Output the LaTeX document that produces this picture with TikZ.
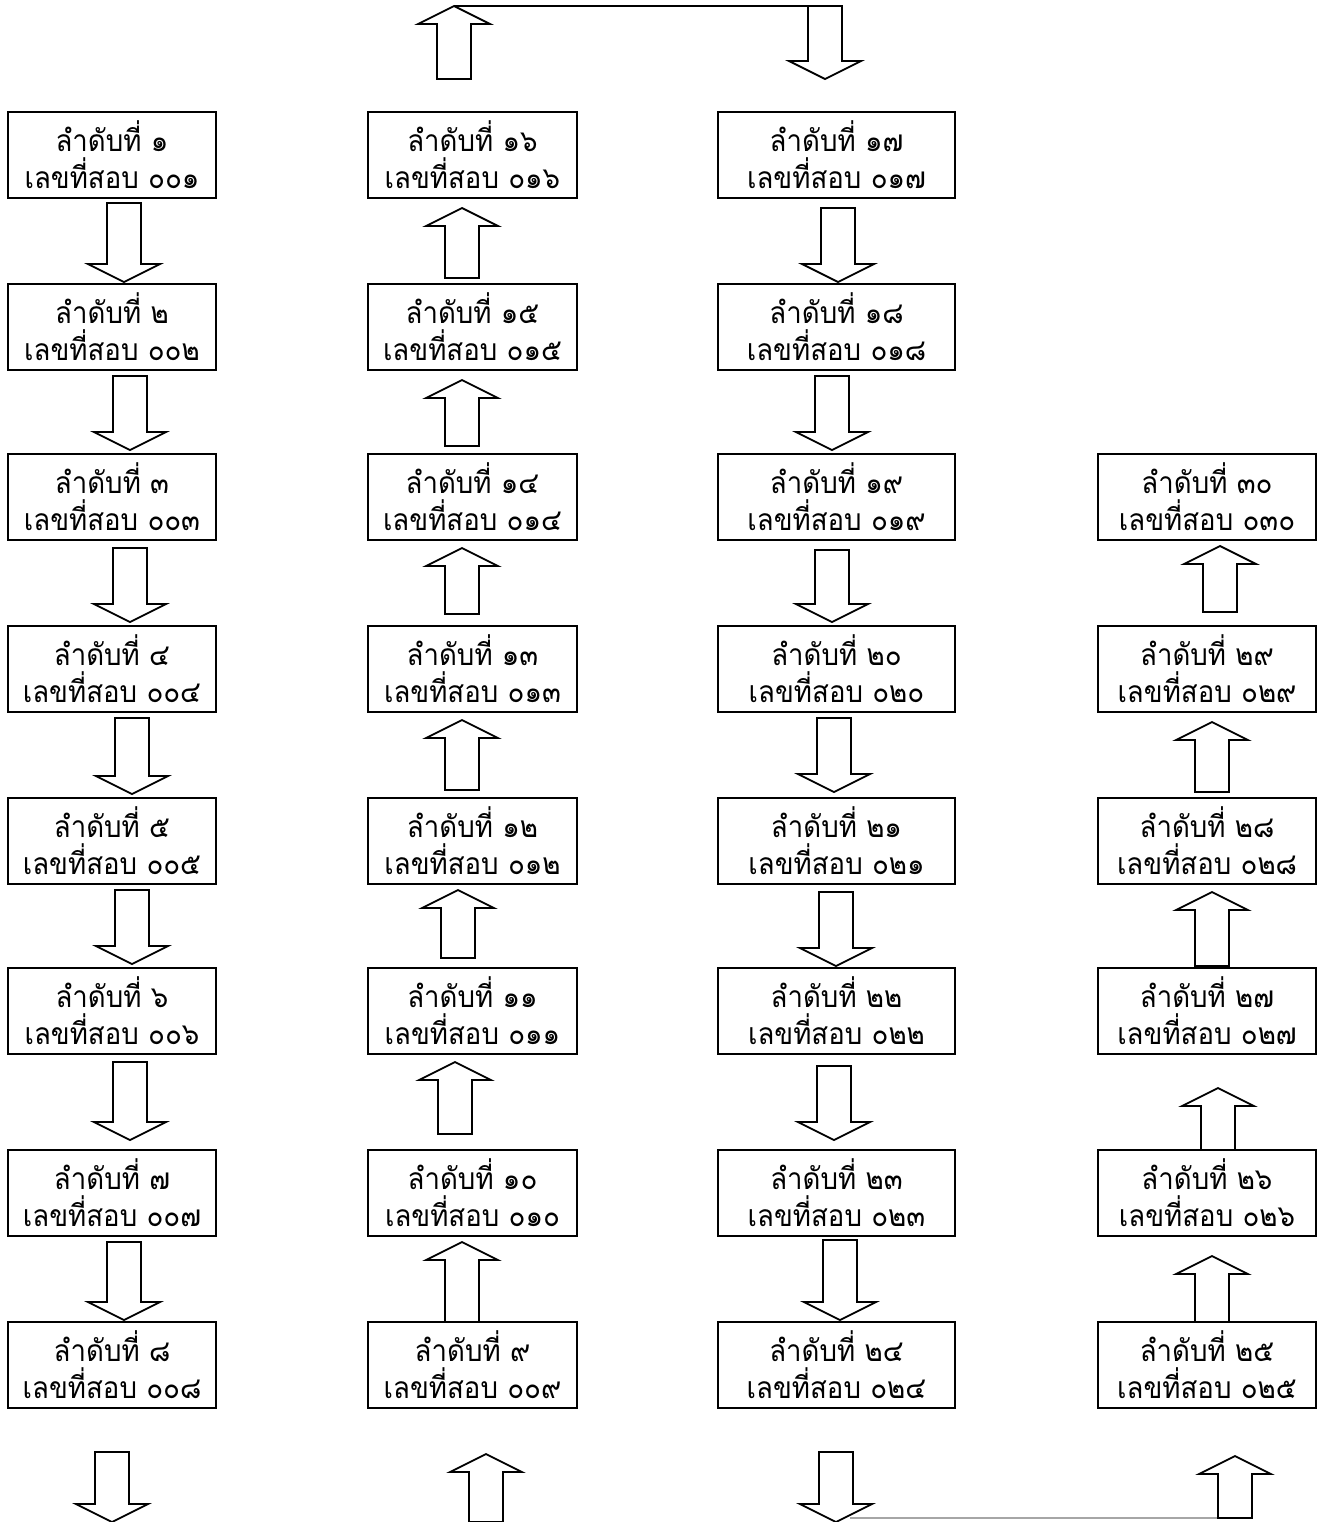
\documentclass[tikz,border=0pt]{standalone}
\usepackage{fontspec}
\newfontfamily\thaifont[Script=Thai,FakeStretch=0.92]{Loma}
\begin{document}
\begin{tikzpicture}[x=0.5pt,y=-0.5pt,
  box/.style={draw,line width=1.25pt,rectangle,minimum height=43pt,inner sep=0pt,align=center,
    font=\thaifont\fontsize{15}{18.5}\selectfont},
  cola/.style={box,minimum width=104pt},
  colb/.style={box,minimum width=104.5pt},
  colc/.style={box,minimum width=118.5pt},
  cold/.style={box,minimum width=109pt},
  blk/.style={draw,line width=0.9pt,line join=miter,fill=white}]
\useasboundingbox (0,0) rectangle (1324,1522);
\newcommand\myDn[3]{\draw[blk] (#1-17,#2) -- (#1+17,#2) -- (#1+17,#3-18) -- (#1+36,#3-18) -- (#1,#3) -- (#1-36,#3-18) -- (#1-17,#3-18) -- cycle;}
\newcommand\myUp[3]{\draw[blk] (#1-17,#3) -- (#1+17,#3) -- (#1+17,#2+18) -- (#1+36,#2+18) -- (#1,#2) -- (#1-36,#2+18) -- (#1-17,#2+18) -- cycle;}
% column 1
\node[cola] (b1) at (112,155) {ลำดับที่ ๑\\เลขที่สอบ ๐๐๑};
\node[cola] (b2) at (112,327) {ลำดับที่ ๒\\เลขที่สอบ ๐๐๒};
\node[cola] (b3) at (112,497) {ลำดับที่ ๓\\เลขที่สอบ ๐๐๓};
\node[cola] (b4) at (112,669) {ลำดับที่ ๔\\เลขที่สอบ ๐๐๔};
\node[cola] (b5) at (112,841) {ลำดับที่ ๕\\เลขที่สอบ ๐๐๕};
\node[cola] (b6) at (112,1011) {ลำดับที่ ๖\\เลขที่สอบ ๐๐๖};
\node[cola] (b7) at (112,1193) {ลำดับที่ ๗\\เลขที่สอบ ๐๐๗};
\node[cola] (b8) at (112,1365) {ลำดับที่ ๘\\เลขที่สอบ ๐๐๘};
% column 2
\node[colb] (b16) at (472.5,155) {ลำดับที่ ๑๖\\เลขที่สอบ ๐๑๖};
\node[colb] (b15) at (472.5,327) {ลำดับที่ ๑๕\\เลขที่สอบ ๐๑๕};
\node[colb] (b14) at (472.5,497) {ลำดับที่ ๑๔\\เลขที่สอบ ๐๑๔};
\node[colb] (b13) at (472.5,669) {ลำดับที่ ๑๓\\เลขที่สอบ ๐๑๓};
\node[colb] (b12) at (472.5,841) {ลำดับที่ ๑๒\\เลขที่สอบ ๐๑๒};
\node[colb] (b11) at (472.5,1011) {ลำดับที่ ๑๑\\เลขที่สอบ ๐๑๑};
\node[colb] (b10) at (472.5,1193) {ลำดับที่ ๑๐\\เลขที่สอบ ๐๑๐};
\node[colb] (b9) at (472.5,1365) {ลำดับที่ ๙\\เลขที่สอบ ๐๐๙};
% column 3
\node[colc] (b17) at (836.5,155) {ลำดับที่ ๑๗\\เลขที่สอบ ๐๑๗};
\node[colc] (b18) at (836.5,327) {ลำดับที่ ๑๘\\เลขที่สอบ ๐๑๘};
\node[colc] (b19) at (836.5,497) {ลำดับที่ ๑๙\\เลขที่สอบ ๐๑๙};
\node[colc] (b20) at (836.5,669) {ลำดับที่ ๒๐\\เลขที่สอบ ๐๒๐};
\node[colc] (b21) at (836.5,841) {ลำดับที่ ๒๑\\เลขที่สอบ ๐๒๑};
\node[colc] (b22) at (836.5,1011) {ลำดับที่ ๒๒\\เลขที่สอบ ๐๒๒};
\node[colc] (b23) at (836.5,1193) {ลำดับที่ ๒๓\\เลขที่สอบ ๐๒๓};
\node[colc] (b24) at (836.5,1365) {ลำดับที่ ๒๔\\เลขที่สอบ ๐๒๔};
% column 4
\node[cold] (b30) at (1207,497) {ลำดับที่ ๓๐\\เลขที่สอบ ๐๓๐};
\node[cold] (b29) at (1207,669) {ลำดับที่ ๒๙\\เลขที่สอบ ๐๒๙};
\node[cold] (b28) at (1207,841) {ลำดับที่ ๒๘\\เลขที่สอบ ๐๒๘};
\node[cold] (b27) at (1207,1011) {ลำดับที่ ๒๗\\เลขที่สอบ ๐๒๗};
\node[cold] (b26) at (1207,1193) {ลำดับที่ ๒๖\\เลขที่สอบ ๐๒๖};
\node[cold] (b25) at (1207,1365) {ลำดับที่ ๒๕\\เลขที่สอบ ๐๒๕};
% top and bottom connecting lines
\draw[line width=1pt] (454,6) -- (843,6);
\draw[line width=1pt,gray!70] (850,1518) -- (1252,1518);
% column 1 arrows (down)
\myDn{124}{203}{282}
\myDn{130}{376}{450}
\myDn{130}{548}{622}
\myDn{132}{718}{794}
\myDn{132}{890}{964}
\myDn{130}{1062}{1140}
\myDn{124}{1242}{1320}
\myDn{112}{1452}{1522}
% column 2 arrows (up)
\myUp{454}{6}{79}
\myUp{462}{208}{278}
\myUp{462}{380}{446}
\myUp{462}{548}{614}
\myUp{462}{720}{790}
\myUp{458}{890}{958}
\myUp{455}{1062}{1134}
\myUp{462}{1242}{1322}
\myUp{486}{1454}{1522}
% column 3 arrows (down)
\myDn{825}{6}{79}
\myDn{838}{208}{282}
\myDn{832}{376}{450}
\myDn{832}{550}{622}
\myDn{834}{718}{792}
\myDn{836}{892}{966}
\myDn{834}{1066}{1140}
\myDn{840}{1240}{1320}
\myDn{836}{1452}{1522}
% column 4 arrows (up)
\myUp{1220}{546}{612}
\myUp{1212}{722}{792}
\myUp{1212}{892}{966}
\myUp{1218}{1088}{1150}
\myUp{1212}{1256}{1322}
\myUp{1235}{1456}{1518}
\end{tikzpicture}
\end{document}
